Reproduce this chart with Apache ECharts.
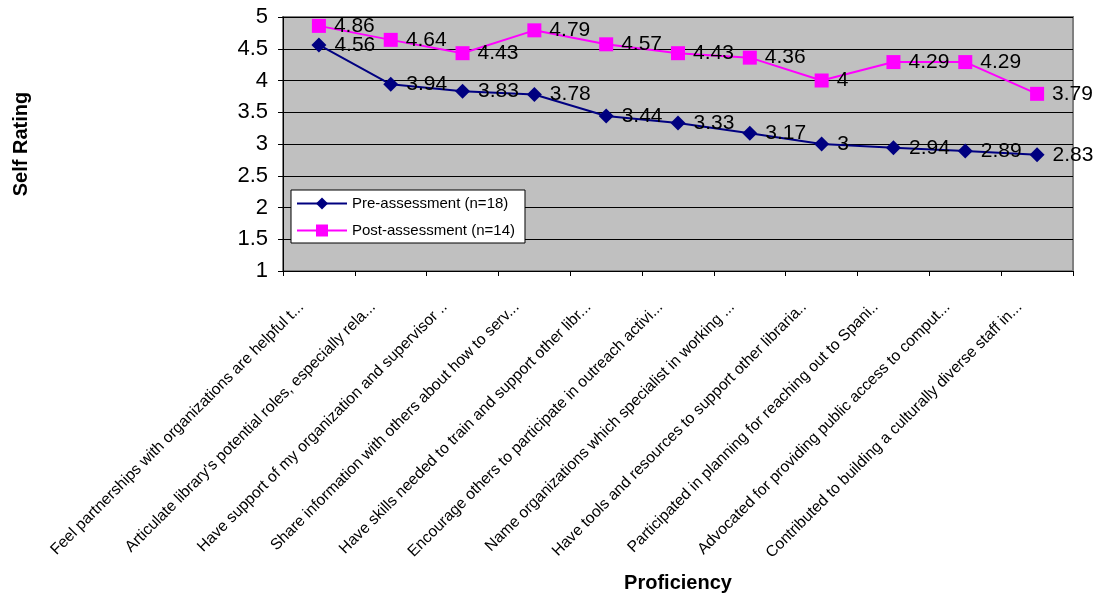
<!DOCTYPE html>
<html><head><meta charset="utf-8">
<script src="https://cdn.jsdelivr.net/npm/echarts@6/dist/echarts.min.js"></script>
<style>html,body{margin:0;padding:0;background:#fff}#c{width:1097px;height:597px}</style>
</head><body><div id="c"></div>
<script>
var categories = [
  "Feel partnerships with organizations are helpful t...",
  "Articulate library's potential roles, especially rela...",
  "Have support of my organization and supervisor ..",
  "Share information with others about how to serv...",
  "Have skills needed to train and support other libr...",
  "Encourage others to participate in outreach activi...",
  "Name organizations which specialist in working ...",
  "Have tools and resources to support other libraria..",
  "Participated in planning for reaching out to Spani..",
  "Advocated for providing public access to comput...",
  "Contributed to building a culturally diverse staff in..."
];
var preValues = [4.56, 3.94, 3.83, 3.78, 3.44, 3.33, 3.17, 3, 2.94, 2.89, 2.83];
var postValues = [4.86, 4.64, 4.43, 4.79, 4.57, 4.43, 4.36, 4, 4.29, 4.29, 3.79];
var yTicks = [1, 1.5, 2, 2.5, 3, 3.5, 4, 4.5, 5];

var F = 'Arial, "Liberation Sans", sans-serif';
var chart = echarts.init(document.getElementById('c'), null, {renderer: 'canvas'});
chart.setOption({
  animation: false,
  textStyle: {fontFamily: F},
  grid: {left: 283, right: 24, top: 17, bottom: 326, show: true,
         backgroundColor: '#C0C0C0', borderColor: '#808080', borderWidth: 2},
  legend: {
    orient: 'vertical', left: 291, top: 190,
    backgroundColor: '#fff', borderColor: '#000', borderWidth: 1,
    padding: [6, 10, 5, 5], itemGap: 12, itemWidth: 50, itemHeight: 15,
    textStyle: {fontSize: 15, color: '#000', fontFamily: F},
    data: ['Pre-assessment (n=18)', 'Post-assessment (n=14)']
  },
  xAxis: {
    type: 'category', data: categories, boundaryGap: true,
    name: 'Proficiency', nameLocation: 'middle', nameGap: 302,
    nameTextStyle: {fontSize: 20, fontWeight: 'bold', color: '#000', fontFamily: F},
    axisLine: {lineStyle: {color: '#000', width: 1}},
    axisTick: {show: true, length: 5, alignWithLabel: false, lineStyle: {color: '#000'}},
    axisLabel: {rotate: 45, fontSize: 15.7, color: '#000', margin: 16, fontFamily: F, interval: 0,
                padding: [0, 25, 0, 0]},
    splitLine: {show: false}
  },
  yAxis: {
    type: 'value', min: 1, max: 5, interval: 0.5,
    name: 'Self Rating', nameLocation: 'middle', nameGap: 252, nameRotate: 90,
    nameTextStyle: {fontSize: 20, fontWeight: 'bold', color: '#000', fontFamily: F},
    axisLine: {show: true, lineStyle: {color: '#000', width: 1}},
    axisTick: {show: true, length: 5, lineStyle: {color: '#000'}},
    axisLabel: {fontSize: 22, color: '#000', margin: 15, fontFamily: F,
                formatter: function (v) { return String(v); }},
    splitLine: {show: true, lineStyle: {color: '#000', width: 1}}
  },
  series: [
    {
      name: 'Pre-assessment (n=18)', type: 'line', data: preValues,
      symbol: 'diamond', symbolSize: 15, showAllSymbol: true,
      lineStyle: {color: '#000080', width: 2}, itemStyle: {color: '#000080'},
      label: {show: true, position: 'right', distance: 8, fontSize: 21, color: '#000', fontFamily: F},
      z: 3
    },
    {
      name: 'Post-assessment (n=14)', type: 'line', data: postValues,
      symbol: 'rect', symbolSize: 14, showAllSymbol: true,
      lineStyle: {color: '#FF00FF', width: 2}, itemStyle: {color: '#FF00FF'},
      label: {show: true, position: 'right', distance: 8, fontSize: 21, color: '#000', fontFamily: F},
      z: 3
    }
  ]
});
</script></body></html>
